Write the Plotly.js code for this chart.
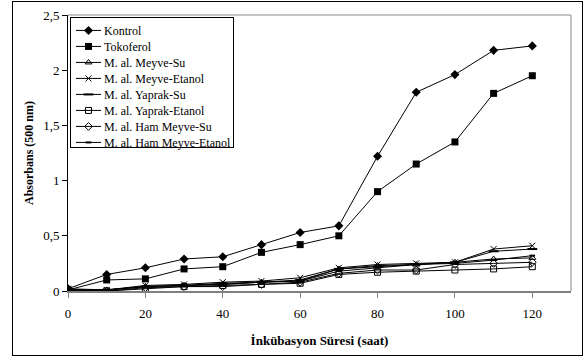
<!DOCTYPE html>
<html>
<head>
<meta charset="utf-8">
<script src="https://cdn.plot.ly/plotly-3.0.1.min.js"></script>
<style>
  html, body { margin: 0; padding: 0; background: #fff; }
  #wrap { position: relative; width: 584px; height: 358px; }
  #frame { position: absolute; left: 12px; top: 1px; width: 569px; height: 353px; border: 1.5px solid #000; pointer-events: none; }
  #chart { position: absolute; left: 0; top: 0; width: 584px; height: 358px; }
</style>
</head>
<body>
<div id="wrap">
  <div id="chart"></div>
  <div id="frame"></div>
</div>
<script>
// Incubation time (hours)
const hours = [0, 10, 20, 30, 40, 50, 60, 70, 80, 90, 100, 110, 120];

// Absorbance at 500 nm for each sample
const kontrol        = [0.02, 0.15, 0.21, 0.29, 0.31, 0.42, 0.53, 0.59, 1.22, 1.80, 1.96, 2.18, 2.22];
const tokoferol      = [0.01, 0.10, 0.11, 0.20, 0.22, 0.35, 0.42, 0.50, 0.90, 1.15, 1.35, 1.79, 1.95];
const meyveSu        = [0.01, 0.01, 0.04, 0.05, 0.06, 0.08, 0.09, 0.20, 0.23, 0.24, 0.26, 0.29, 0.30];
const meyveEtanol    = [0.02, 0.01, 0.05, 0.06, 0.08, 0.09, 0.12, 0.21, 0.24, 0.25, 0.26, 0.38, 0.41];
const yaprakSu       = [0.01, 0.01, 0.04, 0.05, 0.07, 0.08, 0.10, 0.20, 0.22, 0.24, 0.26, 0.36, 0.38];
const yaprakEtanol   = [0.01, 0.00, 0.02, 0.04, 0.05, 0.06, 0.07, 0.15, 0.17, 0.18, 0.19, 0.20, 0.22];
const hamMeyveSu     = [0.01, 0.00, 0.03, 0.04, 0.04, 0.06, 0.08, 0.16, 0.19, 0.19, 0.24, 0.25, 0.26];
const hamMeyveEtanol = [0.01, 0.01, 0.04, 0.05, 0.06, 0.08, 0.09, 0.18, 0.21, 0.24, 0.25, 0.28, 0.32];

const seriesNames = [
  'Kontrol', 'Tokoferol', 'M. al. Meyve-Su', 'M. al. Meyve-Etanol',
  'M. al. Yaprak-Su', 'M. al. Yaprak-Etanol', 'M. al. Ham Meyve-Su', 'M. al. Ham Meyve-Etanol'
];
const seriesValues = [kontrol, tokoferol, meyveSu, meyveEtanol, yaprakSu, yaprakEtanol, hamMeyveSu, hamMeyveEtanol];

const markerStyles = [
  { symbol: 'diamond', size: 7, color: '#000' },
  { symbol: 'square', size: 7, color: '#000' },
  { symbol: 'triangle-up-open', size: 6, color: '#000', line: { width: 1, color: '#000' } },
  { symbol: 'x-thin-open', size: 6, color: '#000', line: { width: 1, color: '#000' } },
  { symbol: 'line-ew', size: 7, color: '#000', line: { width: 2, color: '#000' } },
  { symbol: 'square-open', size: 6, color: '#000', line: { width: 1, color: '#000' } },
  { symbol: 'diamond-open', size: 6, color: '#000', line: { width: 1, color: '#000' } },
  { symbol: 'line-ew', size: 4, color: '#000', line: { width: 2, color: '#000' } }
];

const traces = seriesNames.map((name, i) => ({
  type: 'scatter',
  mode: 'lines+markers',
  name: name,
  x: hours,
  y: seriesValues[i],
  line: { color: '#000', width: 1 },
  marker: markerStyles[i]
}));

const serif = '"Liberation Serif", "Times New Roman", serif';

const layout = {
  width: 584,
  height: 358,
  margin: { l: 68, r: 13, t: 15, b: 67 },
  paper_bgcolor: 'rgba(0,0,0,0)',
  plot_bgcolor: '#fff',
  separators: ',.',
  font: { family: serif, size: 12, color: '#000' },
  showlegend: true,
  legend: {
    x: 0.004, y: 0.993, xanchor: 'left', yanchor: 'top',
    bgcolor: '#fff', bordercolor: '#000', borderwidth: 1,
    font: { family: serif, size: 12, color: '#000' },
    itemwidth: 30,
    tracegroupgap: 0
  },
  xaxis: {
    range: [0, 130],
    tickvals: [0, 20, 40, 60, 80, 100, 120],
    ticks: 'outside', ticklen: 5, tickcolor: '#808080', tickwidth: 1,
    ticklabelstandoff: 4,
    showgrid: false, zeroline: false,
    showline: true, linecolor: '#808080', linewidth: 2,
    mirror: false,
    tickfont: { family: serif, size: 13 },
    title: { text: '<b>İnkübasyon Süresi (saat)</b>', font: { family: serif, size: 13 }, standoff: 16 }
  },
  yaxis: {
    range: [0, 2.5],
    dtick: 0.5,
    ticks: 'outside', ticklen: 5, tickcolor: '#000', tickwidth: 1,
    showgrid: false, zeroline: false,
    showline: true, linecolor: '#000', linewidth: 1,
    tickfont: { family: serif, size: 13 },
    title: { text: '<b>Absorbans (500 nm)</b>', font: { family: serif, size: 12 }, standoff: 6 }
  },
  shapes: [
    // light grey border on the top and right of the plot area
    { type: 'line', xref: 'paper', yref: 'paper', x0: 0, x1: 1, y0: 1, y1: 1, line: { color: '#b0b0b0', width: 1.5 } },
    { type: 'line', xref: 'paper', yref: 'paper', x0: 1, x1: 1, y0: 0, y1: 1, line: { color: '#b0b0b0', width: 1.5 } }
  ]
};

// Tighten the legend: 16px row pitch, shorter line samples, text closer to them
function compactLegend(gd) {
  const rowPitch = 16;
  const textX = 33;
  const items = gd.querySelectorAll('.legend .traces');
  if (!items.length) return;
  const first = items[0].getAttribute('transform') || '';
  const m = /translate\(\s*([-\d.]+)[ ,]+([-\d.]+)\s*\)/.exec(first);
  const x0 = m ? parseFloat(m[1]) : 0;
  const y0 = m ? parseFloat(m[2]) : 0;
  let maxRight = 0;
  items.forEach((el, i) => {
    el.setAttribute('transform', 'translate(' + x0 + ',' + (y0 - 2 + i * rowPitch) + ')');
    el.querySelectorAll('.legendlines path').forEach(p => p.setAttribute('d', 'M5,0h25'));
    el.querySelectorAll('.legendpoints path').forEach(p => p.setAttribute('transform', 'translate(17.5,0)'));
    const t = el.querySelector('.legendtext');
    if (t) {
      t.setAttribute('x', textX);
      const w = t.getBBox().width;
      maxRight = Math.max(maxRight, textX + w);
    }
  });
  const bg = gd.querySelector('.legend .bg');
  if (bg) {
    bg.setAttribute('height', items.length * rowPitch + 2);
    bg.setAttribute('width', x0 + maxRight + 2);
  }
}

Plotly.newPlot('chart', traces, layout, { displayModeBar: false, staticPlot: true })
  .then(gd => compactLegend(gd));
</script>
</body>
</html>
